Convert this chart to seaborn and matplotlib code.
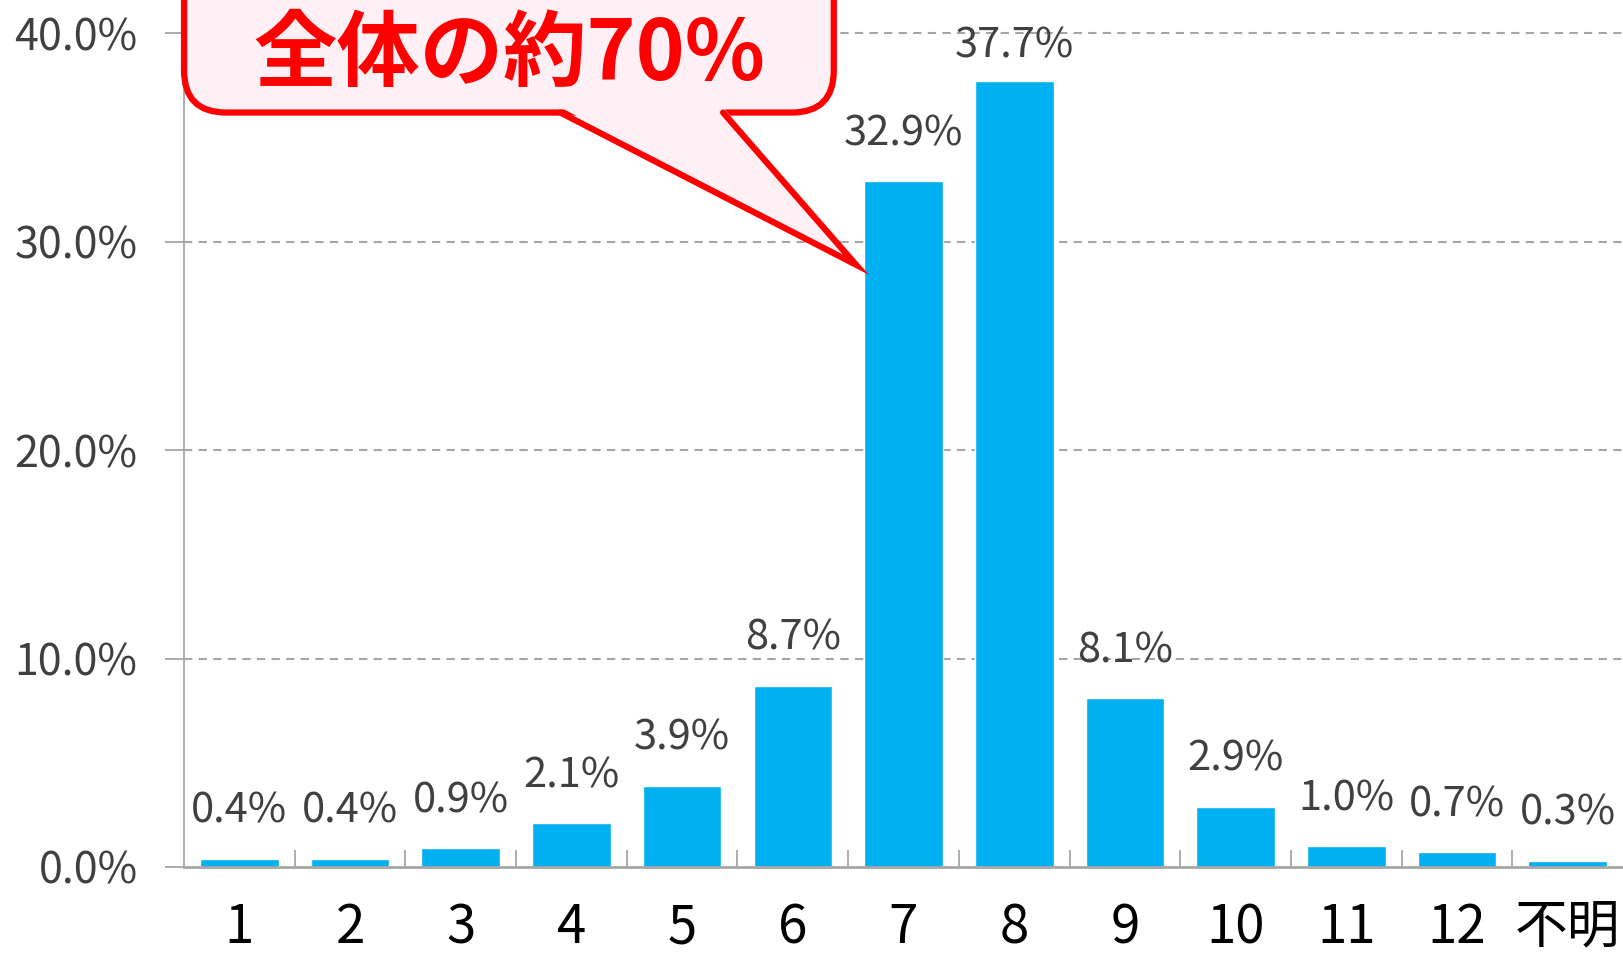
import matplotlib
matplotlib.use("Agg")
import matplotlib.pyplot as plt
import seaborn as sns
import pandas as pd
from matplotlib.patches import FancyBboxPatch, Polygon
from matplotlib.ticker import FuncFormatter, FixedLocator

categories = ["1", "2", "3", "4", "5", "6", "7", "8", "9", "10", "11", "12", "不明"]
shares = [0.4, 0.4, 0.9, 2.1, 3.9, 8.7, 32.9, 37.7, 8.1, 2.9, 1.0, 0.7, 0.3]
value_labels = ["0.4%", "0.4%", "0.9%", "2.1%", "3.9%", "8.7%", "32.9%",
                "37.7%", "8.1%", "2.9%", "1.0%", "0.7%", "0.3%"]
y_ticks = [0, 10, 20, 30, 40]
callout_text = "全体の約70%"

sns.set_style("white")
plt.rcParams["font.family"] = ["Noto Sans CJK JP", "DejaVu Sans"]

df = pd.DataFrame({"cat": categories, "share": shares})

fig = plt.figure(figsize=(16.23, 9.63), dpi=100)
ax = fig.add_axes([0.1134, 0.0997, 0.8866, 0.9003])

sns.barplot(data=df, x="cat", y="share", order=categories, color="#00B0F0",
            saturation=1, width=0.71, ax=ax)

ax.set_xlim(-0.5, len(categories) - 0.5)
ax.set_ylim(0, 41.6)
ax.set_xlabel("")
ax.set_ylabel("")

# dashed gridlines
for v in y_ticks[1:]:
    ax.axhline(v, color="#A6A6A6", lw=1.5, ls=(0, (4, 3)), zorder=0)

ax.yaxis.set_major_locator(FixedLocator(y_ticks))
ax.yaxis.set_major_formatter(FuncFormatter(lambda v, p: f"{v:.1f}%"))
ax.tick_params(axis="y", direction="out", length=13.5, width=1.3, color="#A6A6A6",
               labelsize=31, labelcolor="#404040", pad=20, left=True)
ax.tick_params(axis="x", which="major", length=0, labelsize=38, labelcolor="black", pad=24)
ax.set_xticks(range(len(categories)))
ax.set_xticklabels(categories)
ax.set_xticks([i + 0.5 for i in range(len(categories) - 1)], minor=True)
ax.tick_params(axis="x", which="minor", direction="in", length=12, width=1.3,
               color="#A6A6A6", bottom=True)

for s in ["top", "right"]:
    ax.spines[s].set_visible(False)
ax.spines["left"].set_color("#A6A6A6")
ax.spines["left"].set_linewidth(1.3)
ax.spines["bottom"].set_color("#A6A6A6")
ax.spines["bottom"].set_linewidth(2)

# value labels, kept inside the plot area like Excel does
for i, (v, lab) in enumerate(zip(shares, value_labels)):
    ax.text(i, min(v + 1.3, 38.4), lab, ha="center", va="bottom",
            fontsize=30, color="#404040")

# callout bubble
pink = "#FFF0F5"
red = "#FF0000"
box = FancyBboxPatch((-0.5, 36.2), 5.87, 8.0,
                     boxstyle="round,pad=0,rounding_size=0.38",
                     mutation_aspect=5.32, fc=pink, ec=red, lw=4.5,
                     zorder=5, clip_on=False)
ax.add_patch(box)
tail = Polygon([(2.9, 36.45), (4.37, 36.45), (5.57, 28.9)], closed=True,
               fc=pink, ec="none", zorder=6, clip_on=False)
ax.add_patch(tail)
ax.plot([2.9, 5.57, 4.37], [36.2, 28.9, 36.2], color=red, lw=4.5,
        solid_joinstyle="miter", zorder=7, clip_on=False)
ax.text(2.44, 38.95, callout_text, ha="center", va="center", fontsize=60,
        fontweight="bold", color=red, zorder=8)

fig.savefig("out.png", dpi=100)
